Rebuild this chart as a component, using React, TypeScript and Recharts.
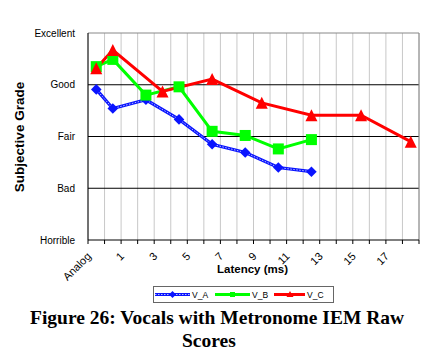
import React from 'react';
import { LineChart, Line, XAxis, YAxis, CartesianGrid, ReferenceLine } from 'recharts';

// Latency categories on the x axis (Analog, then 0..18 ms)
const categories = ['Analog', '0', '1', '2', '3', '4', '5', '6', '7', '8', '9', '10', '11', '12', '13', '14', '15', '16', '17', '18'];
// Category indexes that carry a visible tick label
const labelledCategoryIdx = [0, 2, 4, 6, 8, 10, 12, 14, 16, 18];
// Boundaries between categories (tick marks / vertical gridlines)
const boundaryTicks = [0, 1, 2, 3, 4, 5, 6, 7, 8, 9, 10, 11, 12, 13, 14, 15, 16, 17, 18, 19, 20];

// Subjective grade scale
const gradeTicks = [1, 2, 3, 4, 5];
const gradeLabels = ['Horrible', 'Bad', 'Fair', 'Good', 'Excellent'];

// Series values, aligned with categories (null = not measured)
const vA = [3.91, 3.54, null, 3.71, null, 3.33, null, 2.85, null, 2.69, null, 2.4, null, 2.32, null, null, null, null, null, null];
const vB = [4.35, 4.49, null, 3.8, null, 3.96, null, 3.1, null, 3.02, null, 2.76, null, 2.94, null, null, null, null, null, null];
const vC = [4.32, 4.67, null, null, 3.87, null, null, 4.11, null, null, 3.65, null, null, 3.41, null, null, 3.41, null, null, 2.9];

const seriesNames = ['V_A', 'V_B', 'V_C'];
const BLUE = '#0a14ff';
const GREEN = '#00ff00';
const RED = '#ff0000';

const data = categories.map((c, i) => ({ pos: i + 0.5, cat: c, vA: vA[i], vB: vB[i], vC: vC[i] }));
const labelPositions = labelledCategoryIdx.map((i) => i + 0.5);

const FONT = '"Liberation Sans", Arial, sans-serif';

const Diamond = (props: any) => {
  const { cx, cy, index } = props;
  if (cx == null || cy == null) return <g key={`d${index}`} />;
  const r = 5.3;
  return <path key={`d${index}`} d={`M${cx},${cy - r}L${cx + r},${cy}L${cx},${cy + r}L${cx - r},${cy}Z`} fill={BLUE} />;
};
const Square = (props: any) => {
  const { cx, cy, index } = props;
  if (cx == null || cy == null) return <g key={`s${index}`} />;
  const r = 5.5;
  return <rect key={`s${index}`} x={cx - r} y={cy - r} width={2 * r} height={2 * r} fill={GREEN} />;
};
const Triangle = (props: any) => {
  const { cx, cy, index } = props;
  if (cx == null || cy == null) return <g key={`t${index}`} />;
  const r = 6;
  return <path key={`t${index}`} d={`M${cx},${cy - r}L${cx + r},${cy + r}L${cx - r},${cy + r}Z`} fill={RED} />;
};

const YTick = (props: any) => {
  const { x, y, payload } = props;
  const idx = gradeTicks.indexOf(payload.value);
  return (
    <text x={x - 13} y={y} textAnchor="end" dominantBaseline="central" fontSize={10} fontFamily={FONT} fill="#000">
      {gradeLabels[idx]}
    </text>
  );
};

const XLabelTick = (props: any) => {
  const { x, y, payload } = props;
  const label = categories[Math.floor(payload.value)];
  const tx = x - 4.5;
  const ty = y + 13;
  return (
    <text x={tx} y={ty} textAnchor="end" fontSize={11} fontFamily={FONT} fill="#000" transform={`rotate(-45 ${tx} ${ty})`}>
      {label}
    </text>
  );
};

const EmptyTick = () => <g />;

const YTitle = (props: any) => {
  const vb = props.viewBox;
  const x = vb.x + 11;
  const y = vb.y + vb.height / 2 + 0.5;
  return (
    <text x={x} y={y} textAnchor="middle" dominantBaseline="central" fontSize={13.5} fontWeight="bold" fontFamily={FONT} transform={`rotate(-90 ${x} ${y})`}>
      Subjective Grade
    </text>
  );
};

const XTitle = (props: any) => {
  const vb = props.viewBox;
  return (
    <text x={vb.x + vb.width / 2 - 1} y={vb.y + 29} textAnchor="middle" fontSize={11.5} fontWeight="bold" fontFamily={FONT}>
      Latency (ms)
    </text>
  );
};

const LegendBox = () => (
  <svg width={181} height={17} style={{ position: 'absolute', left: 153, top: 286, overflow: 'visible' }}>
    <rect x={0.5} y={0.5} width={180} height={16} fill="#fff" stroke="#666" strokeWidth={1} />
    <line x1={2} y1={8.5} x2={37} y2={8.5} stroke={BLUE} strokeWidth={3} />
    <line x1={2} y1={8.5} x2={37} y2={8.5} stroke="#b8c0ff" strokeWidth={1} strokeDasharray="1.5 1.5" />
    <path d="M19.5,5L23,8.5L19.5,12L16,8.5Z" fill={BLUE} />
    <text x={39} y={12} fontSize={8.5} fontFamily={FONT}>{seriesNames[0]}</text>
    <line x1={62} y1={8.5} x2={97} y2={8.5} stroke={GREEN} strokeWidth={3} />
    <rect x={77} y={6} width={5} height={5} fill={GREEN} />
    <text x={99} y={12} fontSize={8.5} fontFamily={FONT}>{seriesNames[1]}</text>
    <line x1={121} y1={8.5} x2={152} y2={8.5} stroke={RED} strokeWidth={3} />
    <path d="M137,5L140.5,11L133.5,11Z" fill={RED} />
    <text x={154} y={12} fontSize={8.5} fontFamily={FONT}>{seriesNames[2]}</text>
  </svg>
);

const Caption = () => (
  <svg width={431} height={60} style={{ position: 'absolute', left: 0, top: 300 }}>
    <text x={30} y={24} fontSize={19.5} fontWeight="bold" fontFamily='"Liberation Serif", "Times New Roman", serif'>
      Figure 26: Vocals with Metronome IEM Raw
    </text>
    <text x={182} y={47} fontSize={19.5} fontWeight="bold" fontFamily='"Liberation Serif", "Times New Roman", serif'>
      Scores
    </text>
  </svg>
);

export default function App() {
  return (
    <div style={{ position: 'absolute', left: 0, top: 0, width: 431, height: 363, background: '#fff', overflow: 'hidden' }}>
      <LineChart width={431} height={363} data={data} margin={{ top: 33, right: 12, bottom: 79, left: 8 }}>
        <CartesianGrid vertical horizontal={false} stroke="#c8c8c8" strokeWidth={1} />
        <XAxis
          xAxisId={0}
          dataKey="pos"
          type="number"
          domain={[0, 20]}
          ticks={boundaryTicks}
          interval={0}
          allowDataOverflow
          height={4}
          tickSize={4}
          tickMargin={0}
          tick={EmptyTick}
          axisLine={{ stroke: '#000', strokeWidth: 1 }}
          tickLine={{ stroke: '#000', strokeWidth: 1 }}
        />
        <XAxis
          xAxisId="lbl"
          dataKey="pos"
          type="number"
          domain={[0, 20]}
          ticks={labelPositions}
          interval={0}
          allowDataOverflow
          height={40}
          tickSize={0}
          tickMargin={0}
          axisLine={false}
          tickLine={false}
          tick={XLabelTick}
          label={<XTitle />}
        />
        <YAxis
          type="number"
          domain={[1, 5]}
          ticks={gradeTicks}
          interval={0}
          width={80}
          tickSize={0}
          tickMargin={0}
          tickLine={false}
          axisLine={{ stroke: '#000', strokeWidth: 1 }}
          tick={YTick}
          label={<YTitle />}
        />
        <ReferenceLine y={2} stroke="#000" strokeWidth={1} />
        <ReferenceLine y={3} stroke="#000" strokeWidth={1} />
        <ReferenceLine y={4} stroke="#000" strokeWidth={1} />
        <ReferenceLine y={5} stroke="#888" strokeWidth={1} />
        <ReferenceLine x={20} stroke="#888" strokeWidth={1} />
        <Line dataKey="vA" name="V_A" stroke={BLUE} strokeWidth={3.2} dot={false} activeDot={false} connectNulls isAnimationActive={false} />
        <Line dataKey="vA" name="V_A hatch" stroke="#b8c0ff" strokeWidth={1} strokeDasharray="1.5 1.5" dot={false} activeDot={false} connectNulls isAnimationActive={false} legendType="none" />
        <Line dataKey="vA" name="V_A markers" stroke="none" strokeWidth={0} dot={Diamond} activeDot={false} connectNulls isAnimationActive={false} legendType="none" />
        <Line dataKey="vB" name="V_B" stroke={GREEN} strokeWidth={3} dot={Square} activeDot={false} connectNulls isAnimationActive={false} />
        <Line dataKey="vC" name="V_C" stroke={RED} strokeWidth={3} dot={Triangle} activeDot={false} connectNulls isAnimationActive={false} />
      </LineChart>
      <LegendBox />
      <Caption />
    </div>
  );
}
